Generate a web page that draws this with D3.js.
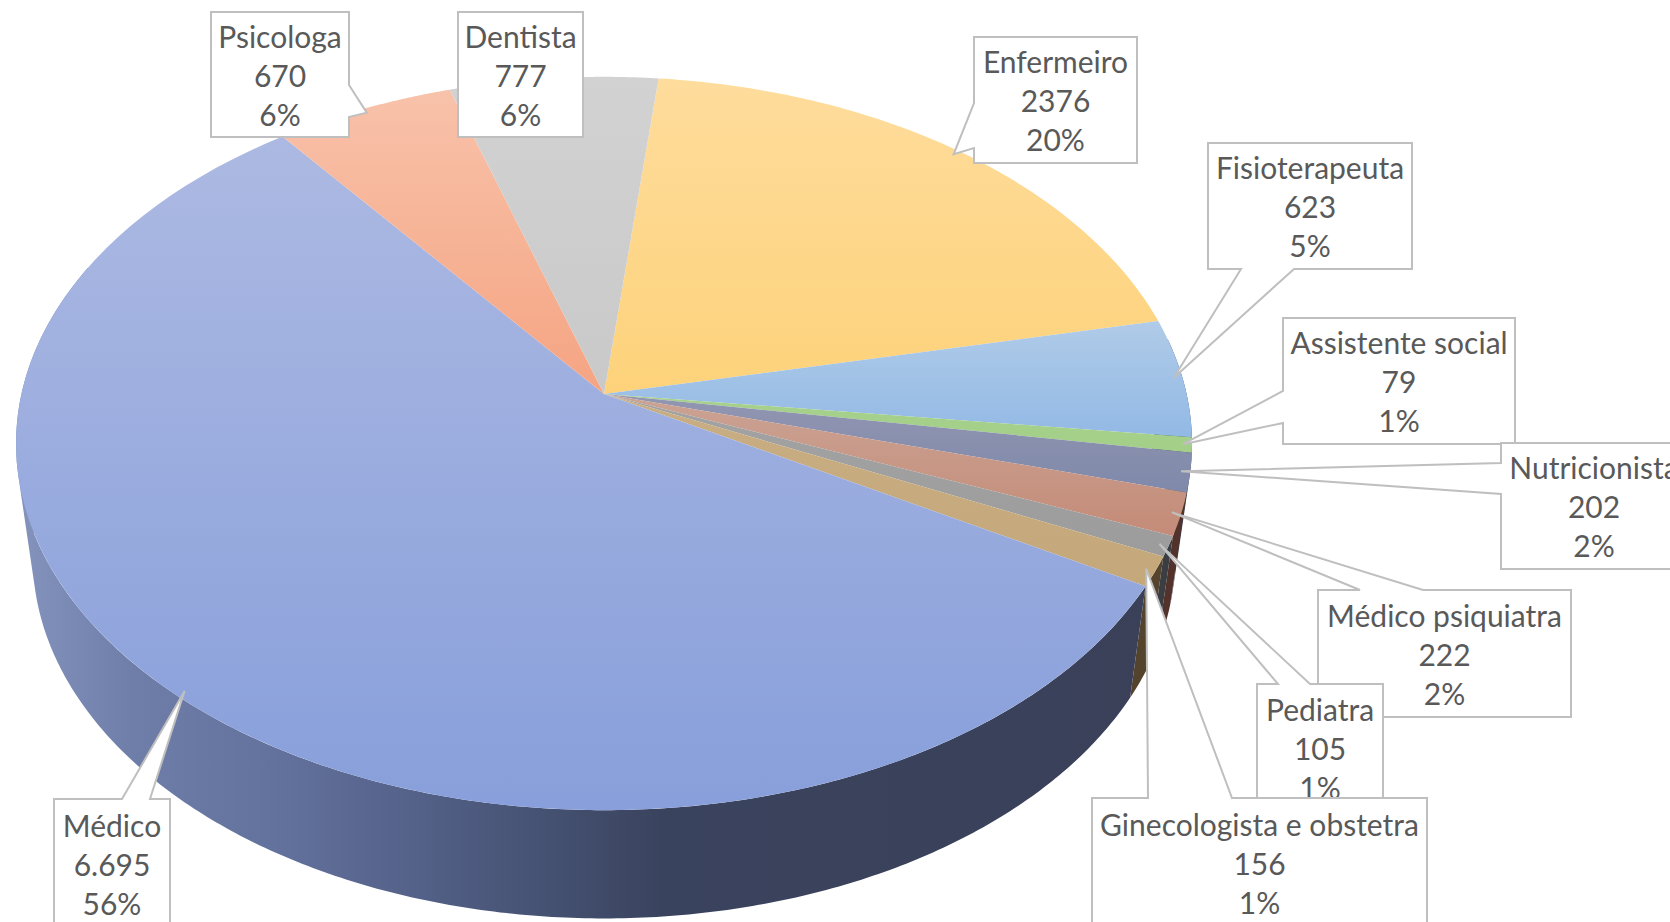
<!DOCTYPE html>
<html>
<head>
    <meta charset="utf-8">
    <title>Profissionais</title>
    <script src="https://d3js.org/d3.v7.min.js"></script>
    <style>
        html, body { margin: 0; padding: 0; background: #fff; overflow: hidden; }
        text { font-family: Lato, "Noto Sans", sans-serif; fill: #595959; }
    </style>
</head>
<body>
    <div id="chart"></div>

    <script>
        // data, clockwise from the first slice
        var categories = ["Enfermeiro", "Fisioterapeuta", "Assistente social", "Nutricionista", "Médico psiquiatra", "Pediatra", "Ginecologista e obstetra", "Médico", "Psicologa", "Dentista"];
        var values = [2376, 623, 79, 202, 222, 105, 156, 6695, 670, 777];
        var valueLabels = ["2376", "623", "79", "202", "222", "105", "156", "6.695", "670", "777"];
        var percentLabels = ["20%", "5%", "1%", "2%", "2%", "1%", "1%", "56%", "6%", "6%"];

        // colours per slice: top light, top dark, wall
        var topLight = ["#fedc9c", "#b0cbe8", "#a6d18d", "#9296b1", "#cba394", "#a3a3a3", "#c9ae84", "#acb9e2", "#f8c2aa", "#d2d2d2"];
        var topDark = ["#fdd27a", "#92b9e5", "#a3cf88", "#7f89aa", "#c48b78", "#9c9c9c", "#c4a87a", "#889fdb", "#f5a482", "#c9c9c9"];
        var wallColor = ["#6b5a34", "#3d5470", "#3f5a30", "#3c4258", "#52322b", "#3a3d42", "#54442d", "#3a4058", "#7a4a34", "#555555"];

        // callout boxes: x, y, w, h, side the wedge leaves from, wedge start and end along that side, text nudge
        var calloutBoxes = [
            { i: 8, x: 211, y: 12, w: 138, h: 125, side: "right", a: 85, b: 117, dy: 0 },
            { i: 9, x: 458, y: 12, w: 125, h: 125, dy: 0 },
            { i: 0, x: 974, y: 37, w: 163, h: 126, side: "left", a: 103, b: 148, dy: 0 },
            { i: 1, x: 1208, y: 143, w: 204, h: 126, side: "bottom", a: 1241, b: 1294, dy: 0 },
            { i: 2, x: 1283, y: 318, w: 232, h: 126, side: "left", a: 391, b: 423, dy: 0 },
            { i: 3, x: 1501, y: 443, w: 186, h: 126, side: "left", a: 463, b: 494, dy: 0 },
            { i: 4, x: 1318, y: 590, w: 253, h: 127, side: "top", a: 1360, b: 1423, dy: 1 },
            { i: 5, x: 1257, y: 684, w: 126, h: 126, side: "top", a: 1278, b: 1310, dy: 1 },
            { i: 6, x: 1092, y: 798, w: 335, h: 126, side: "top", a: 1148, b: 1232, dy: 2 },
            { i: 7, x: 54, y: 799, w: 116, h: 126, side: "top", a: 122, b: 150, dy: 2 }
        ];

        var width = 1670;
        var height = 922;
        var tipRadius = 0.985;

        // the pie top and bottom are perspective views of a circle
        var topDisc = { cx: 604, cy: 394, a: 582.6, r: 360, k: 0.135 };
        var bottomDisc = { cx: 604, cy: 508, a: 566, r: 355, k: 0.135 };

        function project(disc, angle, radius) {
            var u = Math.sin(angle) * radius;
            var v = -Math.cos(angle) * radius;
            var w = 1 - disc.k * v;
            return [disc.cx + disc.a * u / w, disc.cy + disc.r * v / w];
        }

        function rim(disc, a0, a1, n) {
            return d3.range(0, n + 1).map(function(j) {
                return project(disc, a0 + (a1 - a0) * j / n, 1);
            });
        }

        var pie = d3.pie()
            .sort(null)
            .startAngle(6.1 * Math.PI / 180)
            .endAngle((6.1 + 360) * Math.PI / 180);
        var slices = pie(values);

        var line = d3.line();

        var svg = d3.select("#chart")
            .append("svg")
            .attr("width", width)
            .attr("height", height);

        var defs = svg.append("defs");

        // one vertical gradient per slice on the top face
        slices.forEach(function(s, i) {
            var g = defs.append("linearGradient")
                .attr("id", "top" + i)
                .attr("x1", 0).attr("y1", 0).attr("x2", 0).attr("y2", 1);
            g.append("stop").attr("offset", 0).attr("stop-color", topLight[i]);
            g.append("stop").attr("offset", 1).attr("stop-color", topDark[i]);
        });

        // the big wall fades out from the left
        var wallStops = [[0, "#8594bd"], [0.1, "#6f7ea9"], [0.22, "#63729d"], [0.33, "#55628a"], [0.44, "#465374"], [0.55, "#3a435e"], [1, "#3a4058"]];
        var wallGrad = defs.append("linearGradient")
            .attr("id", "wallMain")
            .attr("gradientUnits", "userSpaceOnUse")
            .attr("x1", 16).attr("y1", 0).attr("x2", 1192).attr("y2", 0);
        wallStops.forEach(function(d) {
            wallGrad.append("stop").attr("offset", d[0]).attr("stop-color", d[1]);
        });

        // walls facing us: one path of thin quads per slice, all wound the same way,
        // so the side silhouette stays straight and there are no seams
        var walls = svg.append("g");
        slices.forEach(function(s, i) {
            var a0 = Math.max(s.startAngle, Math.PI * 0.45);
            var a1 = Math.min(s.endAngle, Math.PI * 1.62);
            if (a1 <= a0) return;
            var n = Math.ceil((a1 - a0) / 0.01);
            var up = rim(topDisc, a0, a1, n);
            var down = rim(bottomDisc, a0, a1, n);
            var d = d3.range(0, n).map(function(j) {
                var quad = [up[j], up[j + 1], down[j + 1], down[j]];
                if (d3.polygonArea(quad) < 0) quad.reverse();
                return line(quad) + "Z";
            }).join("");
            walls.append("path")
                .attr("d", d)
                .attr("fill", categories[i] === "Médico" ? "url(#wallMain)" : wallColor[i]);
        });

        // top face
        var tops = svg.append("g");
        slices.forEach(function(s, i) {
            var pts = [project(topDisc, 0, 0)].concat(rim(topDisc, s.startAngle, s.endAngle, 90));
            tops.append("path")
                .attr("d", line(pts) + "Z")
                .attr("fill", "url(#top" + i + ")");
        });

        function calloutPath(b, tip) {
            var x0 = b.x, y0 = b.y, x1 = b.x + b.w, y1 = b.y + b.h;
            var pts = [[x0, y0]];
            if (b.side === "top") pts.push([b.a, y0], tip, [b.b, y0]);
            pts.push([x1, y0]);
            if (b.side === "right") pts.push([x1, b.a], tip, [x1, b.b]);
            pts.push([x1, y1]);
            if (b.side === "bottom") pts.push([b.b, y1], tip, [b.a, y1]);
            pts.push([x0, y1]);
            if (b.side === "left") pts.push([x0, b.b], tip, [x0, b.a]);
            return line(pts) + "Z";
        }

        // callouts, later ones sit over earlier ones
        var callouts = svg.append("g");
        calloutBoxes.forEach(function(b) {
            var s = slices[b.i];
            var mid = (s.startAngle + s.endAngle) / 2;
            var tip = project(topDisc, mid, tipRadius);
            var g = callouts.append("g");
            g.append("path")
                .attr("d", calloutPath(b, tip))
                .attr("fill", "#fff")
                .attr("stroke", "#bfbfbf")
                .attr("stroke-width", 2);
            var lines = [categories[b.i], valueLabels[b.i], percentLabels[b.i]];
            g.selectAll("text")
                .data(lines)
                .enter()
                .append("text")
                .attr("text-anchor", "middle")
                .attr("x", b.x + b.w / 2)
                .attr("y", function(d, j) { return b.y + 36 + b.dy + j * 39; })
                .style("font-size", "30px")
                .text(function(d) { return d; });
        });
    </script>
</body>
</html>
